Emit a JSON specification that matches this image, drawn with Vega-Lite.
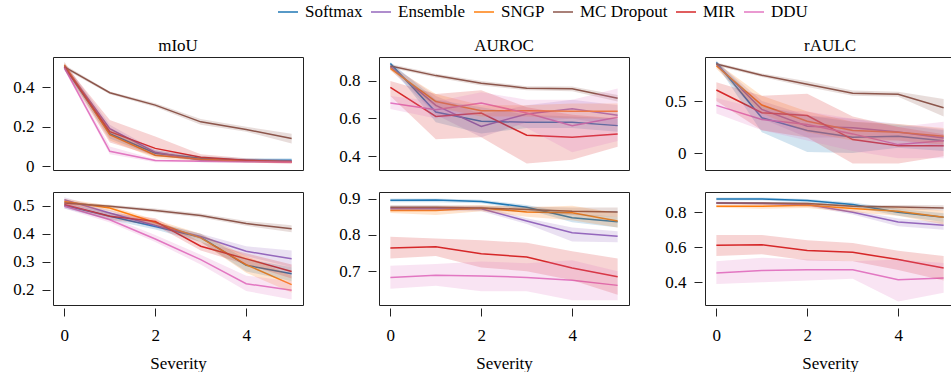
{
  "$schema": "https://vega.github.io/schema/vega-lite/v6.json",
  "background": "white",
  "padding": {"left": 12, "top": 1, "right": 0, "bottom": 0},
  "datasets": {
    "d": [
      {"p":"A1","m":"Softmax","s":0,"y":0.505,"lo":0.49,"hi":0.52},
      {"p":"A1","m":"Softmax","s":1,"y":0.165,"lo":0.14,"hi":0.19},
      {"p":"A1","m":"Softmax","s":2,"y":0.065,"lo":0.05,"hi":0.08},
      {"p":"A1","m":"Softmax","s":3,"y":0.04,"lo":0.03,"hi":0.05},
      {"p":"A1","m":"Softmax","s":4,"y":0.03,"lo":0.02,"hi":0.04},
      {"p":"A1","m":"Softmax","s":5,"y":0.03,"lo":0.02,"hi":0.04},
      {"p":"A1","m":"Ensemble","s":0,"y":0.51,"lo":0.49,"hi":0.53},
      {"p":"A1","m":"Ensemble","s":1,"y":0.19,"lo":0.17,"hi":0.21},
      {"p":"A1","m":"Ensemble","s":2,"y":0.07,"lo":0.06,"hi":0.08},
      {"p":"A1","m":"Ensemble","s":3,"y":0.03,"lo":0.02,"hi":0.04},
      {"p":"A1","m":"Ensemble","s":4,"y":0.025,"lo":0.018,"hi":0.032},
      {"p":"A1","m":"Ensemble","s":5,"y":0.025,"lo":0.018,"hi":0.032},
      {"p":"A1","m":"SNGP","s":0,"y":0.515,"lo":0.5,"hi":0.53},
      {"p":"A1","m":"SNGP","s":1,"y":0.16,"lo":0.13,"hi":0.19},
      {"p":"A1","m":"SNGP","s":2,"y":0.055,"lo":0.04,"hi":0.07},
      {"p":"A1","m":"SNGP","s":3,"y":0.035,"lo":0.025,"hi":0.045},
      {"p":"A1","m":"SNGP","s":4,"y":0.025,"lo":0.018,"hi":0.032},
      {"p":"A1","m":"SNGP","s":5,"y":0.022,"lo":0.015,"hi":0.03},
      {"p":"A1","m":"MC Dropout","s":0,"y":0.505,"lo":0.495,"hi":0.515},
      {"p":"A1","m":"MC Dropout","s":1,"y":0.373,"lo":0.365,"hi":0.38},
      {"p":"A1","m":"MC Dropout","s":2,"y":0.31,"lo":0.3,"hi":0.32},
      {"p":"A1","m":"MC Dropout","s":3,"y":0.225,"lo":0.21,"hi":0.24},
      {"p":"A1","m":"MC Dropout","s":4,"y":0.186,"lo":0.175,"hi":0.2},
      {"p":"A1","m":"MC Dropout","s":5,"y":0.14,"lo":0.115,"hi":0.165},
      {"p":"A1","m":"MIR","s":0,"y":0.505,"lo":0.49,"hi":0.52},
      {"p":"A1","m":"MIR","s":1,"y":0.175,"lo":0.12,"hi":0.235},
      {"p":"A1","m":"MIR","s":2,"y":0.09,"lo":0.05,"hi":0.15},
      {"p":"A1","m":"MIR","s":3,"y":0.045,"lo":0.03,"hi":0.06},
      {"p":"A1","m":"MIR","s":4,"y":0.03,"lo":0.02,"hi":0.04},
      {"p":"A1","m":"MIR","s":5,"y":0.02,"lo":0.01,"hi":0.03},
      {"p":"A1","m":"DDU","s":0,"y":0.5,"lo":0.49,"hi":0.51},
      {"p":"A1","m":"DDU","s":1,"y":0.075,"lo":0.06,"hi":0.1},
      {"p":"A1","m":"DDU","s":2,"y":0.028,"lo":0.02,"hi":0.035},
      {"p":"A1","m":"DDU","s":3,"y":0.025,"lo":0.02,"hi":0.03},
      {"p":"A1","m":"DDU","s":4,"y":0.022,"lo":0.017,"hi":0.027},
      {"p":"A1","m":"DDU","s":5,"y":0.02,"lo":0.015,"hi":0.025},

      {"p":"A2","m":"Softmax","s":0,"y":0.893,"lo":0.88,"hi":0.9},
      {"p":"A2","m":"Softmax","s":1,"y":0.634,"lo":0.58,"hi":0.7},
      {"p":"A2","m":"Softmax","s":2,"y":0.585,"lo":0.52,"hi":0.66},
      {"p":"A2","m":"Softmax","s":3,"y":0.58,"lo":0.55,"hi":0.62},
      {"p":"A2","m":"Softmax","s":4,"y":0.58,"lo":0.55,"hi":0.61},
      {"p":"A2","m":"Softmax","s":5,"y":0.562,"lo":0.53,"hi":0.6},
      {"p":"A2","m":"Ensemble","s":0,"y":0.876,"lo":0.86,"hi":0.89},
      {"p":"A2","m":"Ensemble","s":1,"y":0.67,"lo":0.62,"hi":0.72},
      {"p":"A2","m":"Ensemble","s":2,"y":0.558,"lo":0.5,"hi":0.62},
      {"p":"A2","m":"Ensemble","s":3,"y":0.624,"lo":0.58,"hi":0.67},
      {"p":"A2","m":"Ensemble","s":4,"y":0.652,"lo":0.6,"hi":0.7},
      {"p":"A2","m":"Ensemble","s":5,"y":0.617,"lo":0.56,"hi":0.67},
      {"p":"A2","m":"SNGP","s":0,"y":0.867,"lo":0.855,"hi":0.88},
      {"p":"A2","m":"SNGP","s":1,"y":0.69,"lo":0.66,"hi":0.73},
      {"p":"A2","m":"SNGP","s":2,"y":0.641,"lo":0.61,"hi":0.67},
      {"p":"A2","m":"SNGP","s":3,"y":0.641,"lo":0.61,"hi":0.67},
      {"p":"A2","m":"SNGP","s":4,"y":0.638,"lo":0.6,"hi":0.68},
      {"p":"A2","m":"SNGP","s":5,"y":0.638,"lo":0.6,"hi":0.68},
      {"p":"A2","m":"MC Dropout","s":0,"y":0.879,"lo":0.87,"hi":0.89},
      {"p":"A2","m":"MC Dropout","s":1,"y":0.828,"lo":0.818,"hi":0.838},
      {"p":"A2","m":"MC Dropout","s":2,"y":0.788,"lo":0.775,"hi":0.8},
      {"p":"A2","m":"MC Dropout","s":3,"y":0.761,"lo":0.75,"hi":0.772},
      {"p":"A2","m":"MC Dropout","s":4,"y":0.758,"lo":0.745,"hi":0.77},
      {"p":"A2","m":"MC Dropout","s":5,"y":0.708,"lo":0.69,"hi":0.725},
      {"p":"A2","m":"MIR","s":0,"y":0.765,"lo":0.72,"hi":0.8},
      {"p":"A2","m":"MIR","s":1,"y":0.611,"lo":0.49,"hi":0.73},
      {"p":"A2","m":"MIR","s":2,"y":0.629,"lo":0.5,"hi":0.75},
      {"p":"A2","m":"MIR","s":3,"y":0.511,"lo":0.36,"hi":0.66},
      {"p":"A2","m":"MIR","s":4,"y":0.5,"lo":0.38,"hi":0.62},
      {"p":"A2","m":"MIR","s":5,"y":0.518,"lo":0.45,"hi":0.6},
      {"p":"A2","m":"DDU","s":0,"y":0.682,"lo":0.65,"hi":0.72},
      {"p":"A2","m":"DDU","s":1,"y":0.647,"lo":0.6,"hi":0.69},
      {"p":"A2","m":"DDU","s":2,"y":0.682,"lo":0.62,"hi":0.74},
      {"p":"A2","m":"DDU","s":3,"y":0.629,"lo":0.55,"hi":0.7},
      {"p":"A2","m":"DDU","s":4,"y":0.562,"lo":0.42,"hi":0.7},
      {"p":"A2","m":"DDU","s":5,"y":0.606,"lo":0.48,"hi":0.76},

      {"p":"A3","m":"Softmax","s":0,"y":0.871,"lo":0.85,"hi":0.89},
      {"p":"A3","m":"Softmax","s":1,"y":0.339,"lo":0.2,"hi":0.45},
      {"p":"A3","m":"Softmax","s":2,"y":0.216,"lo":0.01,"hi":0.36},
      {"p":"A3","m":"Softmax","s":3,"y":0.152,"lo":0.0,"hi":0.3},
      {"p":"A3","m":"Softmax","s":4,"y":0.161,"lo":0.05,"hi":0.27},
      {"p":"A3","m":"Softmax","s":5,"y":0.119,"lo":0.02,"hi":0.22},
      {"p":"A3","m":"Ensemble","s":0,"y":0.855,"lo":0.83,"hi":0.88},
      {"p":"A3","m":"Ensemble","s":1,"y":0.419,"lo":0.33,"hi":0.5},
      {"p":"A3","m":"Ensemble","s":2,"y":0.258,"lo":0.15,"hi":0.36},
      {"p":"A3","m":"Ensemble","s":3,"y":0.242,"lo":0.15,"hi":0.33},
      {"p":"A3","m":"Ensemble","s":4,"y":0.203,"lo":0.12,"hi":0.28},
      {"p":"A3","m":"Ensemble","s":5,"y":0.145,"lo":0.06,"hi":0.23},
      {"p":"A3","m":"SNGP","s":0,"y":0.839,"lo":0.81,"hi":0.87},
      {"p":"A3","m":"SNGP","s":1,"y":0.461,"lo":0.38,"hi":0.55},
      {"p":"A3","m":"SNGP","s":2,"y":0.306,"lo":0.2,"hi":0.4},
      {"p":"A3","m":"SNGP","s":3,"y":0.216,"lo":0.12,"hi":0.3},
      {"p":"A3","m":"SNGP","s":4,"y":0.2,"lo":0.12,"hi":0.28},
      {"p":"A3","m":"SNGP","s":5,"y":0.161,"lo":0.08,"hi":0.24},
      {"p":"A3","m":"MC Dropout","s":0,"y":0.855,"lo":0.84,"hi":0.87},
      {"p":"A3","m":"MC Dropout","s":1,"y":0.748,"lo":0.73,"hi":0.765},
      {"p":"A3","m":"MC Dropout","s":2,"y":0.661,"lo":0.635,"hi":0.69},
      {"p":"A3","m":"MC Dropout","s":3,"y":0.574,"lo":0.55,"hi":0.6},
      {"p":"A3","m":"MC Dropout","s":4,"y":0.565,"lo":0.54,"hi":0.59},
      {"p":"A3","m":"MC Dropout","s":5,"y":0.435,"lo":0.35,"hi":0.52},
      {"p":"A3","m":"MIR","s":0,"y":0.606,"lo":0.5,"hi":0.68},
      {"p":"A3","m":"MIR","s":1,"y":0.387,"lo":0.22,"hi":0.55},
      {"p":"A3","m":"MIR","s":2,"y":0.361,"lo":0.15,"hi":0.57},
      {"p":"A3","m":"MIR","s":3,"y":0.129,"lo":-0.1,"hi":0.35},
      {"p":"A3","m":"MIR","s":4,"y":0.071,"lo":-0.1,"hi":0.25},
      {"p":"A3","m":"MIR","s":5,"y":0.071,"lo":-0.03,"hi":0.18},
      {"p":"A3","m":"DDU","s":0,"y":0.458,"lo":0.38,"hi":0.53},
      {"p":"A3","m":"DDU","s":1,"y":0.323,"lo":0.22,"hi":0.42},
      {"p":"A3","m":"DDU","s":2,"y":0.274,"lo":0.12,"hi":0.4},
      {"p":"A3","m":"DDU","s":3,"y":0.184,"lo":0.02,"hi":0.33},
      {"p":"A3","m":"DDU","s":4,"y":0.081,"lo":-0.05,"hi":0.25},
      {"p":"A3","m":"DDU","s":5,"y":0.119,"lo":-0.05,"hi":0.3},

      {"p":"B1","m":"Softmax","s":0,"y":0.501,"lo":0.49,"hi":0.51},
      {"p":"B1","m":"Softmax","s":1,"y":0.462,"lo":0.45,"hi":0.475},
      {"p":"B1","m":"Softmax","s":2,"y":0.426,"lo":0.415,"hi":0.44},
      {"p":"B1","m":"Softmax","s":3,"y":0.387,"lo":0.37,"hi":0.4},
      {"p":"B1","m":"Softmax","s":4,"y":0.287,"lo":0.265,"hi":0.31},
      {"p":"B1","m":"Softmax","s":5,"y":0.257,"lo":0.23,"hi":0.28},
      {"p":"B1","m":"Ensemble","s":0,"y":0.521,"lo":0.51,"hi":0.53},
      {"p":"B1","m":"Ensemble","s":1,"y":0.474,"lo":0.465,"hi":0.485},
      {"p":"B1","m":"Ensemble","s":2,"y":0.429,"lo":0.42,"hi":0.44},
      {"p":"B1","m":"Ensemble","s":3,"y":0.39,"lo":0.38,"hi":0.4},
      {"p":"B1","m":"Ensemble","s":4,"y":0.337,"lo":0.32,"hi":0.355},
      {"p":"B1","m":"Ensemble","s":5,"y":0.31,"lo":0.28,"hi":0.34},
      {"p":"B1","m":"SNGP","s":0,"y":0.515,"lo":0.505,"hi":0.525},
      {"p":"B1","m":"SNGP","s":1,"y":0.492,"lo":0.48,"hi":0.5},
      {"p":"B1","m":"SNGP","s":2,"y":0.44,"lo":0.43,"hi":0.45},
      {"p":"B1","m":"SNGP","s":3,"y":0.385,"lo":0.37,"hi":0.4},
      {"p":"B1","m":"SNGP","s":4,"y":0.289,"lo":0.26,"hi":0.32},
      {"p":"B1","m":"SNGP","s":5,"y":0.218,"lo":0.19,"hi":0.25},
      {"p":"B1","m":"MC Dropout","s":0,"y":0.51,"lo":0.505,"hi":0.515},
      {"p":"B1","m":"MC Dropout","s":1,"y":0.498,"lo":0.493,"hi":0.503},
      {"p":"B1","m":"MC Dropout","s":2,"y":0.483,"lo":0.477,"hi":0.49},
      {"p":"B1","m":"MC Dropout","s":3,"y":0.465,"lo":0.458,"hi":0.472},
      {"p":"B1","m":"MC Dropout","s":4,"y":0.436,"lo":0.428,"hi":0.445},
      {"p":"B1","m":"MC Dropout","s":5,"y":0.418,"lo":0.405,"hi":0.43},
      {"p":"B1","m":"MIR","s":0,"y":0.504,"lo":0.495,"hi":0.515},
      {"p":"B1","m":"MIR","s":1,"y":0.462,"lo":0.45,"hi":0.475},
      {"p":"B1","m":"MIR","s":2,"y":0.444,"lo":0.43,"hi":0.455},
      {"p":"B1","m":"MIR","s":3,"y":0.355,"lo":0.34,"hi":0.37},
      {"p":"B1","m":"MIR","s":4,"y":0.31,"lo":0.29,"hi":0.33},
      {"p":"B1","m":"MIR","s":5,"y":0.265,"lo":0.24,"hi":0.29},
      {"p":"B1","m":"DDU","s":0,"y":0.498,"lo":0.49,"hi":0.51},
      {"p":"B1","m":"DDU","s":1,"y":0.45,"lo":0.44,"hi":0.46},
      {"p":"B1","m":"DDU","s":2,"y":0.381,"lo":0.37,"hi":0.395},
      {"p":"B1","m":"DDU","s":3,"y":0.307,"lo":0.29,"hi":0.325},
      {"p":"B1","m":"DDU","s":4,"y":0.221,"lo":0.195,"hi":0.25},
      {"p":"B1","m":"DDU","s":5,"y":0.198,"lo":0.165,"hi":0.23},

      {"p":"B2","m":"Softmax","s":0,"y":0.895,"lo":0.89,"hi":0.9},
      {"p":"B2","m":"Softmax","s":1,"y":0.896,"lo":0.89,"hi":0.9},
      {"p":"B2","m":"Softmax","s":2,"y":0.892,"lo":0.887,"hi":0.897},
      {"p":"B2","m":"Softmax","s":3,"y":0.876,"lo":0.87,"hi":0.882},
      {"p":"B2","m":"Softmax","s":4,"y":0.847,"lo":0.835,"hi":0.858},
      {"p":"B2","m":"Softmax","s":5,"y":0.836,"lo":0.82,"hi":0.85},
      {"p":"B2","m":"Ensemble","s":0,"y":0.872,"lo":0.866,"hi":0.878},
      {"p":"B2","m":"Ensemble","s":1,"y":0.872,"lo":0.866,"hi":0.878},
      {"p":"B2","m":"Ensemble","s":2,"y":0.872,"lo":0.865,"hi":0.879},
      {"p":"B2","m":"Ensemble","s":3,"y":0.838,"lo":0.83,"hi":0.846},
      {"p":"B2","m":"Ensemble","s":4,"y":0.806,"lo":0.782,"hi":0.82},
      {"p":"B2","m":"Ensemble","s":5,"y":0.796,"lo":0.78,"hi":0.81},
      {"p":"B2","m":"SNGP","s":0,"y":0.867,"lo":0.86,"hi":0.875},
      {"p":"B2","m":"SNGP","s":1,"y":0.867,"lo":0.855,"hi":0.878},
      {"p":"B2","m":"SNGP","s":2,"y":0.874,"lo":0.865,"hi":0.882},
      {"p":"B2","m":"SNGP","s":3,"y":0.863,"lo":0.85,"hi":0.876},
      {"p":"B2","m":"SNGP","s":4,"y":0.861,"lo":0.84,"hi":0.88},
      {"p":"B2","m":"SNGP","s":5,"y":0.838,"lo":0.82,"hi":0.86},
      {"p":"B2","m":"MC Dropout","s":0,"y":0.876,"lo":0.87,"hi":0.882},
      {"p":"B2","m":"MC Dropout","s":1,"y":0.876,"lo":0.87,"hi":0.882},
      {"p":"B2","m":"MC Dropout","s":2,"y":0.874,"lo":0.868,"hi":0.88},
      {"p":"B2","m":"MC Dropout","s":3,"y":0.87,"lo":0.862,"hi":0.878},
      {"p":"B2","m":"MC Dropout","s":4,"y":0.865,"lo":0.855,"hi":0.875},
      {"p":"B2","m":"MC Dropout","s":5,"y":0.863,"lo":0.85,"hi":0.875},
      {"p":"B2","m":"MIR","s":0,"y":0.764,"lo":0.735,"hi":0.795},
      {"p":"B2","m":"MIR","s":1,"y":0.767,"lo":0.742,"hi":0.79},
      {"p":"B2","m":"MIR","s":2,"y":0.748,"lo":0.71,"hi":0.785},
      {"p":"B2","m":"MIR","s":3,"y":0.739,"lo":0.7,"hi":0.778},
      {"p":"B2","m":"MIR","s":4,"y":0.709,"lo":0.675,"hi":0.755},
      {"p":"B2","m":"MIR","s":5,"y":0.685,"lo":0.635,"hi":0.735},
      {"p":"B2","m":"DDU","s":0,"y":0.683,"lo":0.652,"hi":0.715},
      {"p":"B2","m":"DDU","s":1,"y":0.689,"lo":0.66,"hi":0.72},
      {"p":"B2","m":"DDU","s":2,"y":0.687,"lo":0.645,"hi":0.727},
      {"p":"B2","m":"DDU","s":3,"y":0.683,"lo":0.645,"hi":0.722},
      {"p":"B2","m":"DDU","s":4,"y":0.675,"lo":0.62,"hi":0.73},
      {"p":"B2","m":"DDU","s":5,"y":0.661,"lo":0.62,"hi":0.7},

      {"p":"B3","m":"Softmax","s":0,"y":0.876,"lo":0.868,"hi":0.884},
      {"p":"B3","m":"Softmax","s":1,"y":0.876,"lo":0.868,"hi":0.884},
      {"p":"B3","m":"Softmax","s":2,"y":0.867,"lo":0.858,"hi":0.876},
      {"p":"B3","m":"Softmax","s":3,"y":0.844,"lo":0.832,"hi":0.856},
      {"p":"B3","m":"Softmax","s":4,"y":0.8,"lo":0.78,"hi":0.82},
      {"p":"B3","m":"Softmax","s":5,"y":0.771,"lo":0.745,"hi":0.795},
      {"p":"B3","m":"Ensemble","s":0,"y":0.853,"lo":0.845,"hi":0.861},
      {"p":"B3","m":"Ensemble","s":1,"y":0.85,"lo":0.842,"hi":0.858},
      {"p":"B3","m":"Ensemble","s":2,"y":0.844,"lo":0.835,"hi":0.853},
      {"p":"B3","m":"Ensemble","s":3,"y":0.8,"lo":0.788,"hi":0.812},
      {"p":"B3","m":"Ensemble","s":4,"y":0.745,"lo":0.72,"hi":0.765},
      {"p":"B3","m":"Ensemble","s":5,"y":0.726,"lo":0.7,"hi":0.745},
      {"p":"B3","m":"SNGP","s":0,"y":0.834,"lo":0.826,"hi":0.842},
      {"p":"B3","m":"SNGP","s":1,"y":0.834,"lo":0.82,"hi":0.848},
      {"p":"B3","m":"SNGP","s":2,"y":0.84,"lo":0.825,"hi":0.855},
      {"p":"B3","m":"SNGP","s":3,"y":0.821,"lo":0.8,"hi":0.84},
      {"p":"B3","m":"SNGP","s":4,"y":0.806,"lo":0.78,"hi":0.83},
      {"p":"B3","m":"SNGP","s":5,"y":0.771,"lo":0.73,"hi":0.81},
      {"p":"B3","m":"MC Dropout","s":0,"y":0.853,"lo":0.847,"hi":0.859},
      {"p":"B3","m":"MC Dropout","s":1,"y":0.853,"lo":0.847,"hi":0.859},
      {"p":"B3","m":"MC Dropout","s":2,"y":0.85,"lo":0.843,"hi":0.857},
      {"p":"B3","m":"MC Dropout","s":3,"y":0.834,"lo":0.826,"hi":0.842},
      {"p":"B3","m":"MC Dropout","s":4,"y":0.83,"lo":0.818,"hi":0.842},
      {"p":"B3","m":"MC Dropout","s":5,"y":0.825,"lo":0.81,"hi":0.84},
      {"p":"B3","m":"MIR","s":0,"y":0.611,"lo":0.55,"hi":0.67},
      {"p":"B3","m":"MIR","s":1,"y":0.615,"lo":0.56,"hi":0.67},
      {"p":"B3","m":"MIR","s":2,"y":0.581,"lo":0.525,"hi":0.64},
      {"p":"B3","m":"MIR","s":3,"y":0.571,"lo":0.52,"hi":0.625},
      {"p":"B3","m":"MIR","s":4,"y":0.53,"lo":0.47,"hi":0.58},
      {"p":"B3","m":"MIR","s":5,"y":0.482,"lo":0.41,"hi":0.55},
      {"p":"B3","m":"DDU","s":0,"y":0.453,"lo":0.39,"hi":0.52},
      {"p":"B3","m":"DDU","s":1,"y":0.467,"lo":0.4,"hi":0.54},
      {"p":"B3","m":"DDU","s":2,"y":0.472,"lo":0.41,"hi":0.53},
      {"p":"B3","m":"DDU","s":3,"y":0.472,"lo":0.42,"hi":0.52},
      {"p":"B3","m":"DDU","s":4,"y":0.415,"lo":0.29,"hi":0.53},
      {"p":"B3","m":"DDU","s":5,"y":0.425,"lo":0.34,"hi":0.51}
    ]
  },
  "data": {"name": "d"},
  "columns": 3,
  "spacing": {"row": 22, "column": 76},
  "bounds": "flush",
  "concat": [
    {
      "width": 250, "height": 113,
      "title": "mIoU",
      "transform": [{"filter": "datum.p == 'A1'"}],
      "encoding": {"x": {"field": "s", "type": "quantitative", "scale": {"domain": [-0.25, 5.25], "nice": false, "zero": false}, "axis": null}},
      "layer": [
        {"mark": {"type": "line", "strokeWidth": 1.5, "clip": true},
         "encoding": {"y": {"field": "y", "type": "quantitative", "scale": {"domain": [-0.02, 0.555], "nice": false, "zero": false}, "axis": {"title": null, "values": [0, 0.2, 0.4], "format": ".1~f"}}, "color": {"field": "m", "type": "nominal", "scale": {"domain": ["Softmax","Ensemble","SNGP","MC Dropout","MIR","DDU"], "range": ["#1f77b4","#9467bd","#ff7f0e","#8c564b","#d62728","#e377c2"]}, "legend": {"title": null, "orient": "none", "direction": "horizontal", "legendX": 224, "legendY": -56, "symbolType": "stroke", "symbolSize": 400, "symbolStrokeWidth": 1.5, "symbolOpacity": 1, "labelFontSize": 17, "columnPadding": 5, "labelOffset": 6}}}},
        {"mark": {"type": "area", "fillOpacity": 0.2, "clip": true},
         "encoding": {"y": {"field": "lo", "type": "quantitative"}, "y2": {"field": "hi"}, "color": {"field": "m", "type": "nominal"}}}
      ]
    },
    {
      "width": 250, "height": 113,
      "title": "AUROC",
      "transform": [{"filter": "datum.p == 'A2'"}],
      "encoding": {"x": {"field": "s", "type": "quantitative", "scale": {"domain": [-0.25, 5.25], "nice": false, "zero": false}, "axis": null}},
      "layer": [
        {"mark": {"type": "line", "strokeWidth": 1.5, "clip": true},
         "encoding": {"y": {"field": "y", "type": "quantitative", "scale": {"domain": [0.326, 0.927], "nice": false, "zero": false}, "axis": {"title": null, "values": [0.4, 0.6, 0.8], "format": ".1~f"}}, "color": {"field": "m", "type": "nominal"}}},
        {"mark": {"type": "area", "fillOpacity": 0.2, "clip": true},
         "encoding": {"y": {"field": "lo", "type": "quantitative"}, "y2": {"field": "hi"}, "color": {"field": "m", "type": "nominal"}}}
      ]
    },
    {
      "width": 250, "height": 113,
      "title": "rAULC",
      "transform": [{"filter": "datum.p == 'A3'"}],
      "encoding": {"x": {"field": "s", "type": "quantitative", "scale": {"domain": [-0.25, 5.25], "nice": false, "zero": false}, "axis": null}},
      "layer": [
        {"mark": {"type": "line", "strokeWidth": 1.5, "clip": true},
         "encoding": {"y": {"field": "y", "type": "quantitative", "scale": {"domain": [-0.163, 0.923], "nice": false, "zero": false}, "axis": {"title": null, "values": [0, 0.5], "format": ".1~f"}}, "color": {"field": "m", "type": "nominal"}}},
        {"mark": {"type": "area", "fillOpacity": 0.2, "clip": true},
         "encoding": {"y": {"field": "lo", "type": "quantitative"}, "y2": {"field": "hi"}, "color": {"field": "m", "type": "nominal"}}}
      ]
    },
    {
      "width": 250, "height": 113,
      "transform": [{"filter": "datum.p == 'B1'"}],
      "encoding": {"x": {"field": "s", "type": "quantitative", "scale": {"domain": [-0.25, 5.25], "nice": false, "zero": false}, "axis": {"title": "Severity", "values": [0, 2, 4], "format": "d"}}},
      "layer": [
        {"mark": {"type": "line", "strokeWidth": 1.5, "clip": true},
         "encoding": {"y": {"field": "y", "type": "quantitative", "scale": {"domain": [0.145, 0.549], "nice": false, "zero": false}, "axis": {"title": null, "values": [0.2, 0.3, 0.4, 0.5], "format": ".1~f"}}, "color": {"field": "m", "type": "nominal"}}},
        {"mark": {"type": "area", "fillOpacity": 0.2, "clip": true},
         "encoding": {"y": {"field": "lo", "type": "quantitative"}, "y2": {"field": "hi"}, "color": {"field": "m", "type": "nominal"}}}
      ]
    },
    {
      "width": 250, "height": 113,
      "transform": [{"filter": "datum.p == 'B2'"}],
      "encoding": {"x": {"field": "s", "type": "quantitative", "scale": {"domain": [-0.25, 5.25], "nice": false, "zero": false}, "axis": {"title": "Severity", "values": [0, 2, 4], "format": "d"}}},
      "layer": [
        {"mark": {"type": "line", "strokeWidth": 1.5, "clip": true},
         "encoding": {"y": {"field": "y", "type": "quantitative", "scale": {"domain": [0.607, 0.918], "nice": false, "zero": false}, "axis": {"title": null, "values": [0.7, 0.8, 0.9], "format": ".1~f"}}, "color": {"field": "m", "type": "nominal"}}},
        {"mark": {"type": "area", "fillOpacity": 0.2, "clip": true},
         "encoding": {"y": {"field": "lo", "type": "quantitative"}, "y2": {"field": "hi"}, "color": {"field": "m", "type": "nominal"}}}
      ]
    },
    {
      "width": 250, "height": 113,
      "transform": [{"filter": "datum.p == 'B3'"}],
      "encoding": {"x": {"field": "s", "type": "quantitative", "scale": {"domain": [-0.25, 5.25], "nice": false, "zero": false}, "axis": {"title": "Severity", "values": [0, 2, 4], "format": "d"}}},
      "layer": [
        {"mark": {"type": "line", "strokeWidth": 1.5, "clip": true},
         "encoding": {"y": {"field": "y", "type": "quantitative", "scale": {"domain": [0.27, 0.916], "nice": false, "zero": false}, "axis": {"title": null, "values": [0.4, 0.6, 0.8], "format": ".1~f"}}, "color": {"field": "m", "type": "nominal"}}},
        {"mark": {"type": "area", "fillOpacity": 0.2, "clip": true},
         "encoding": {"y": {"field": "lo", "type": "quantitative"}, "y2": {"field": "hi"}, "color": {"field": "m", "type": "nominal"}}}
      ]
    }
  ],
  "resolve": {"scale": {"x": "independent", "y": "independent"}},
  "config": {
    "font": "Liberation Serif",
    "view": {"stroke": "#222222", "strokeWidth": 1},
    "title": {"font": "Liberation Serif", "fontSize": 17, "fontWeight": "normal", "color": "black", "offset": 2},
    "axis": {"domain": false, "grid": false, "tickColor": "#222222", "tickSize": 8, "tickWidth": 1, "tickCount": 10, "labelFont": "Liberation Serif", "labelFontSize": 17, "labelColor": "black", "labelPadding": 8, "labelOverlap": false, "labelBound": false, "offset": 3, "titleFont": "Liberation Serif", "titleFontSize": 17, "titleFontWeight": "normal", "titleColor": "black", "titlePadding": 12},
    "axisX": {"labelPadding": 11},
    "legend": {"labelFont": "Liberation Serif", "labelColor": "black"}
  }
}
